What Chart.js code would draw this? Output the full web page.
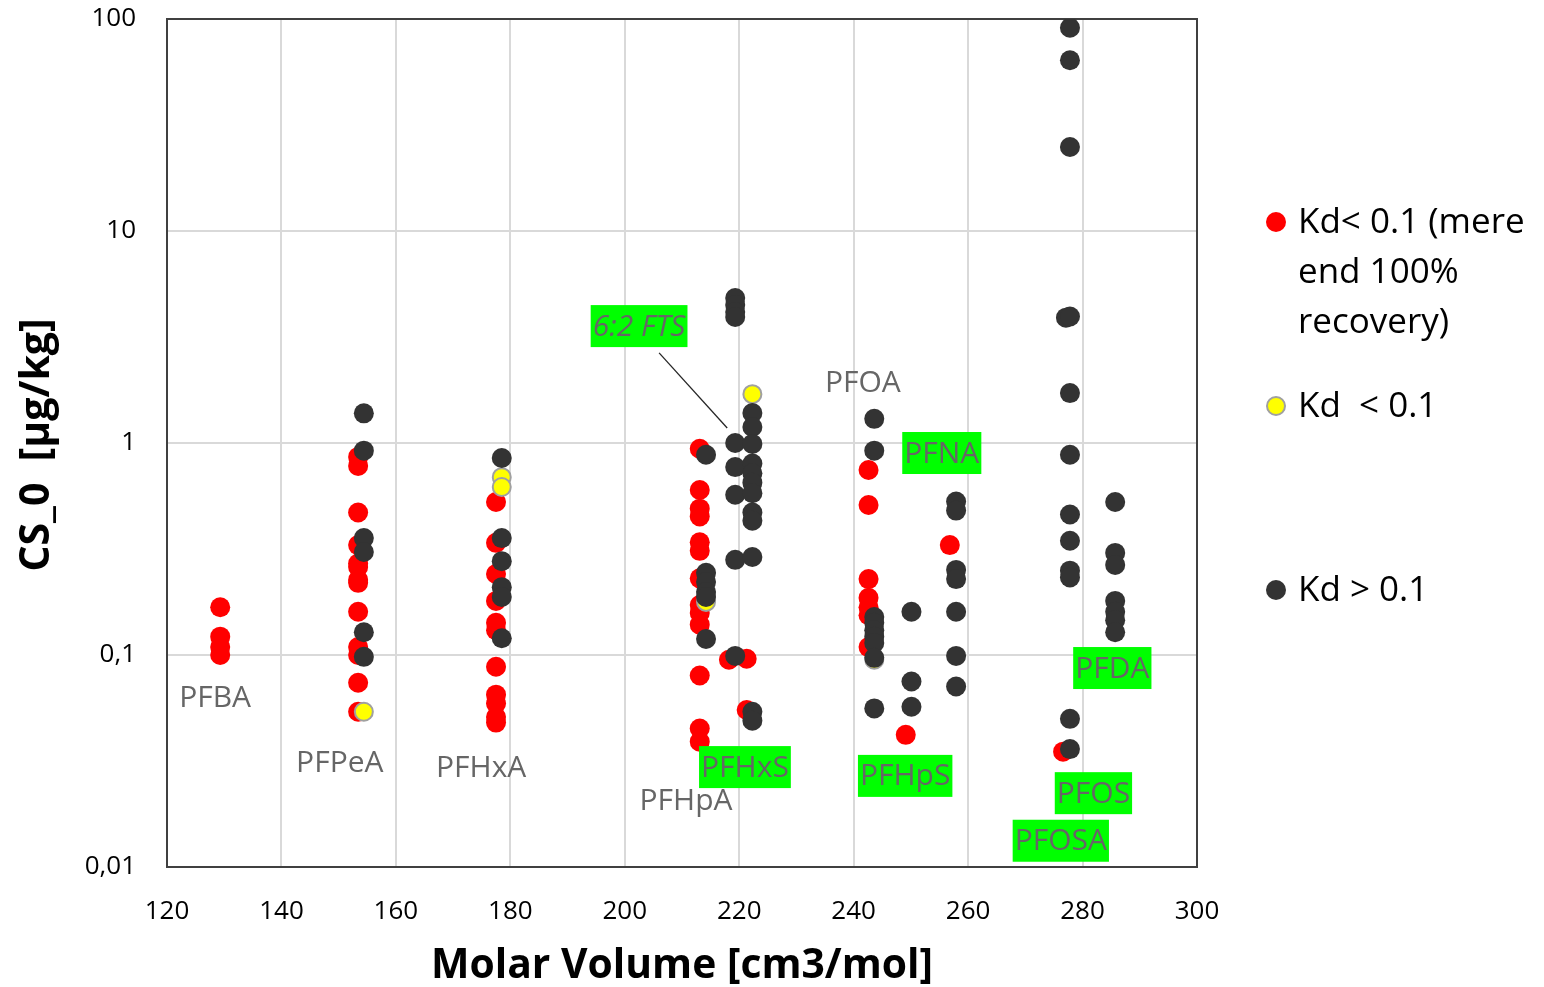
<!DOCTYPE html>
<html>
<head>
<meta charset="utf-8">
<script src="https://cdn.jsdelivr.net/npm/chart.js@4/dist/chart.umd.min.js"></script>
<style>
  html, body { margin: 0; padding: 0; background: #fff; }
  #chart { display: block; }
</style>
</head>
<body>
<canvas id="chart" width="1544" height="987"></canvas>
<script>
/* ===== DATA ===== */
// red: Kd < 0.1 (mere end 100% recovery)
const redVol = [
  129.3, 129.3, 129.3, 129.3,
  153.4, 153.4, 153.4, 153.4, 153.4, 153.4, 153.4, 153.4, 153.4, 153.4, 153.4, 153.4, 153.4,
  177.5, 177.5, 177.5, 177.5, 177.5, 177.5, 177.5, 177.5, 177.5, 177.5, 177.5,
  213.1, 213.1, 213.1, 213.1, 213.1, 213.1, 213.1, 213.1, 213.1, 213.1, 213.1, 213.1, 213.1,
  218.2, 221.3, 221.3,
  242.6, 242.6, 242.6, 242.6, 242.6, 242.6, 242.6,
  249.1, 256.8, 276.6
];
const redCs = [
  0.168, 0.122, 0.109, 0.100,
  0.86, 0.78, 0.47, 0.33, 0.27, 0.26, 0.226, 0.219, 0.16, 0.109, 0.10, 0.074, 0.054,
  0.527, 0.338, 0.241, 0.180, 0.142, 0.131, 0.088, 0.065, 0.059, 0.051, 0.048,
  0.94, 0.60, 0.49, 0.45, 0.34, 0.31, 0.23, 0.172, 0.158, 0.139, 0.080, 0.045, 0.039,
  0.095, 0.096, 0.055,
  0.746, 0.51, 0.228, 0.186, 0.168, 0.154, 0.109,
  0.042, 0.33, 0.035
];

// yellow: Kd < 0.1
const yellowVol = [154.4, 178.5, 178.5, 214.2, 222.3, 243.6];
const yellowCs  = [0.054, 0.69, 0.62, 0.178, 1.70, 0.095];

// dark: Kd > 0.1
const blackVol = [
  154.4, 154.4, 154.4, 154.4, 154.4, 154.4,
  178.5, 178.5, 178.5, 178.5, 178.5, 178.5,
  214.2, 214.2, 214.2, 214.2, 214.2, 214.2,
  219.3, 219.3, 219.3, 219.3, 219.3, 219.3, 219.3, 219.3, 219.3,
  222.3, 222.3, 222.3, 222.3, 222.3, 222.3, 222.3, 222.3, 222.3, 222.3, 222.3, 222.3,
  243.6, 243.6, 243.6, 243.6, 243.6, 243.6, 243.6, 243.6, 243.6,
  250.1, 250.1, 250.1,
  257.9, 257.9, 257.9, 257.9, 257.9, 257.9, 257.9,
  277.8, 277.8, 277.8, 277.1, 277.8, 277.8, 277.8, 277.8, 277.8, 277.8, 277.8, 277.8, 277.8,
  285.7, 285.7, 285.7, 285.7, 285.7, 285.7, 285.7
];
const blackCs = [
  1.38, 0.92, 0.356, 0.306, 0.128, 0.098,
  0.85, 0.356, 0.277, 0.209, 0.188, 0.120,
  0.88, 0.244, 0.221, 0.198, 0.188, 0.119,
  4.83, 4.48, 4.15, 3.93, 1.0, 0.77, 0.57, 0.281, 0.099,
  1.385, 1.19, 0.99, 0.80, 0.72, 0.65, 0.58, 0.47, 0.43, 0.29, 0.054, 0.049,
  1.30, 0.92, 0.151, 0.142, 0.131, 0.122, 0.114, 0.097, 0.056,
  0.16, 0.075, 0.057,
  0.53, 0.48, 0.252, 0.228, 0.16, 0.099, 0.071,
  90.9, 63.9, 24.9, 3.90, 3.95, 1.72, 0.88, 0.46, 0.346, 0.25, 0.232, 0.050, 0.036,
  0.527, 0.303, 0.266, 0.180, 0.160, 0.146, 0.128
];

const yTicks = [0.01, 0.1, 1, 10, 100];

// compound labels (anchored in data units)
const labelNames = ["PFBA", "PFPeA", "PFHxA", "PFHpA", "PFOA", "6:2 FTS", "PFNA", "PFHxS", "PFHpS", "PFDA", "PFOS", "PFOSA"];
const labelVol   = [128.4, 150.2, 174.9, 210.7, 241.6, 202.5, 255.4, 221.0, 249.0, 285.2, 281.9, 276.2];
const labelCs    = [0.0634, 0.031, 0.0296, 0.0207, 1.92, 3.56, 0.897, 0.0296, 0.0269, 0.0868, 0.0223, 0.0133];
const labelBoxed = [false, false, false, false, false, true, true, true, true, true, true, true];

function toPoints(xs, ys) {
  return xs.map((x, i) => ({ x: x, y: ys[i] }));
}

/* ===== PLUGINS ===== */
const frameAndText = {
  id: "frameAndText",
  beforeDatasetsDraw(chart) {
    const { ctx, chartArea: a } = chart;
    ctx.save();
    ctx.strokeStyle = "#404040";
    ctx.lineWidth = 2;
    ctx.strokeRect(a.left, a.top, a.right - a.left, a.bottom - a.top);
    ctx.restore();
  },
  afterDatasetsDraw(chart) {
    const { ctx, scales } = chart;
    const sx = scales.x, sy = scales.y;
    ctx.save();

    // leader line for 6:2 FTS
    ctx.strokeStyle = "#262626";
    ctx.lineWidth = 1.3;
    ctx.beginPath();
    ctx.moveTo(sx.getPixelForValue(206.0), sy.getPixelForValue(2.66));
    ctx.lineTo(sx.getPixelForValue(217.9), sy.getPixelForValue(1.177));
    ctx.stroke();

    ctx.textAlign = "center";
    ctx.textBaseline = "middle";
    labelNames.forEach((name, i) => {
      const px = sx.getPixelForValue(labelVol[i]);
      const py = sy.getPixelForValue(labelCs[i]);
      ctx.font = (name === "6:2 FTS" ? "italic " : "") + "30px 'Open Sans'";
      const w = ctx.measureText(name).width;
      if (labelBoxed[i]) {
        ctx.fillStyle = "#00ff00";
        ctx.fillRect(px - w / 2 - 2, py - 21, w + 4, 42);
      }
      ctx.fillStyle = "#666666";
      ctx.fillText(name, px, py + 1);
    });

    // axis titles
    ctx.fillStyle = "#000";
    ctx.font = "bold 41px 'Open Sans'";
    ctx.fillText("Molar Volume [cm3/mol]", 682, 966, 502);
    ctx.save();
    ctx.translate(37, 445);
    ctx.rotate(-Math.PI / 2);
    ctx.fillText("CS_0  [µg/kg]", 0, 0, 265);
    ctx.restore();

    // legend
    const items = [
      { y: 222, fill: "#ff0000", stroke: null, lines: ["Kd< 0.1 (mere", "end 100%", "recovery)"] },
      { y: 406, fill: "#ffff00", stroke: "#a0a0a0", lines: ["Kd  < 0.1"] },
      { y: 590, fill: "#333333", stroke: null, lines: ["Kd > 0.1"] }
    ];
    ctx.textAlign = "left";
    ctx.font = "35px 'Open Sans'";
    items.forEach(it => {
      ctx.beginPath();
      ctx.arc(1276, it.y, it.stroke ? 9 : 10, 0, Math.PI * 2);
      ctx.fillStyle = it.fill;
      ctx.fill();
      if (it.stroke) {
        ctx.lineWidth = 2;
        ctx.strokeStyle = it.stroke;
        ctx.stroke();
      }
      ctx.fillStyle = "#000";
      it.lines.forEach((t, k) => ctx.fillText(t, 1298, it.y + 50 * k + 1, 232));
    });
    ctx.restore();
  }
};

/* ===== SCATTER CHART ===== */
new Chart(document.getElementById("chart"), {
  type: "scatter",
  data: {
    datasets: [
      {
        label: "Kd > 0.1",
        data: toPoints(blackVol, blackCs),
        backgroundColor: "#333333",
        borderWidth: 0,
        pointRadius: 10,
        order: 1
      },
      {
        label: "Kd < 0.1",
        data: toPoints(yellowVol, yellowCs),
        backgroundColor: "#ffff00",
        borderColor: "#a0a0a0",
        borderWidth: 2,
        pointRadius: 9,
        order: 2
      },
      {
        label: "Kd< 0.1 (mere end 100% recovery)",
        data: toPoints(redVol, redCs),
        backgroundColor: "#ff0000",
        borderWidth: 0,
        pointRadius: 10,
        order: 3
      }
    ]
  },
  options: {
    responsive: false,
    devicePixelRatio: 1,
    animation: false,
    layout: { padding: { left: 0, top: 19, right: 347, bottom: 0 } },
    plugins: {
      legend: { display: false },
      tooltip: { enabled: false }
    },
    scales: {
      x: {
        type: "linear",
        min: 120,
        max: 300,
        ticks: {
          stepSize: 20,
          padding: 0,
          color: "#000",
          font: { family: "'Open Sans'", size: 26 }
        },
        // invisible tick marks give the label offset without padding the layout
        grid: { color: "#d9d9d9", lineWidth: 2, drawTicks: true, tickLength: 29, tickColor: "rgba(0,0,0,0)" },
        border: { display: false },
        afterFit(s) { s.height = 120; }
      },
      y: {
        type: "logarithmic",
        min: 0.01,
        max: 100,
        afterBuildTicks(s) { s.ticks = yTicks.map(v => ({ value: v, major: true })); },
        ticks: {
          padding: 0,
          color: "#000",
          font: { family: "'Open Sans'", size: 26 },
          callback: v => String(v).replace(".", ",")
        },
        grid: { color: "#d9d9d9", lineWidth: 2, drawTicks: true, tickLength: 31, tickColor: "rgba(0,0,0,0)" },
        border: { display: false },
        afterFit(s) { s.width = 167; }
      }
    }
  },
  plugins: [frameAndText]
});
</script>
</body>
</html>
